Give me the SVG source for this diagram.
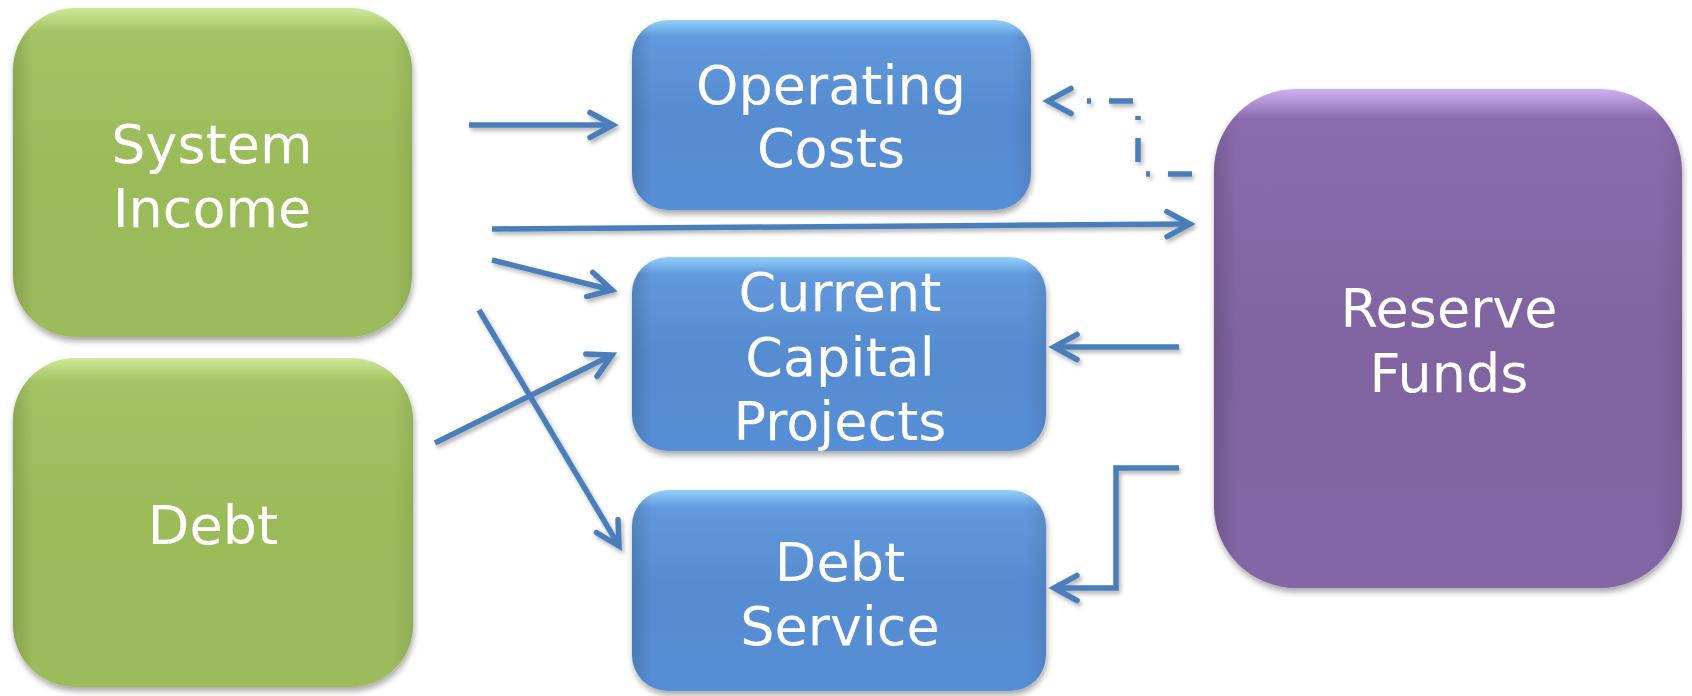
<svg xmlns="http://www.w3.org/2000/svg" width="1692" height="696" viewBox="0 0 1692 696">
  <defs>
    <style>
      .lbl { font-family: "DejaVu Sans", Verdana, sans-serif; font-size: 54px; fill: #ffffff; text-anchor: middle; }
      .conn { fill: none; stroke: #4A7EBB; stroke-width: 5.5; }
      .dash { stroke-dasharray: 24 18 4 20; }
      .edge { fill: url(#edgeShade); }
    </style>
    <linearGradient id="gGreen" x1="0" y1="0" x2="0" y2="1">
      <stop offset="0" stop-color="#cfe99a"/>
      <stop offset="0.07" stop-color="#a4c463"/>
      <stop offset="0.5" stop-color="#9bbb59"/>
      <stop offset="1" stop-color="#9bbb5c"/>
    </linearGradient>
    <linearGradient id="gBlue" x1="0" y1="0" x2="0" y2="1">
      <stop offset="0" stop-color="#93d0fb"/>
      <stop offset="0.09" stop-color="#6199dc"/>
      <stop offset="0.5" stop-color="#568bd0"/>
      <stop offset="1" stop-color="#578fd6"/>
    </linearGradient>
    <linearGradient id="gPurple" x1="0" y1="0" x2="0" y2="1">
      <stop offset="0" stop-color="#cfb0f2"/>
      <stop offset="0.06" stop-color="#8a6cae"/>
      <stop offset="0.5" stop-color="#8064a0"/>
      <stop offset="1" stop-color="#8266a6"/>
    </linearGradient>
    <linearGradient id="edgeShade" x1="0" y1="0" x2="1" y2="0">
      <stop offset="0" stop-color="#000" stop-opacity="0.14"/>
      <stop offset="0.05" stop-color="#000" stop-opacity="0"/>
      <stop offset="0.95" stop-color="#000" stop-opacity="0"/>
      <stop offset="1" stop-color="#000" stop-opacity="0.08"/>
    </linearGradient>
    <filter id="boxShadow" x="-10%" y="-10%" width="120%" height="125%">
      <feDropShadow dx="1" dy="4" stdDeviation="3" flood-color="#000" flood-opacity="0.35"/>
    </filter>
    <filter id="lineShadow" x="-10%" y="-10%" width="120%" height="130%">
      <feDropShadow dx="2" dy="3" stdDeviation="2" flood-color="#000" flood-opacity="0.3"/>
    </filter>
    <marker id="chev" markerUnits="userSpaceOnUse" markerWidth="40" markerHeight="40" viewBox="-30 -20 40 40" refX="0" refY="0" orient="auto" overflow="visible">
      <path d="M -23 -12.5 L 0 0 L -23 12.5" fill="none" stroke="#4A7EBB" stroke-width="5.5" stroke-linecap="round" stroke-linejoin="miter"/>
    </marker>
    <!-- same chevron, tip placed 20px beyond the end of the (dashed) line -->
    <marker id="chevGap" markerUnits="userSpaceOnUse" markerWidth="60" markerHeight="40" viewBox="-30 -20 60 40" refX="-20" refY="0" orient="auto" overflow="visible">
      <path d="M -23 -12.5 L 0 0 L -23 12.5" fill="none" stroke="#4A7EBB" stroke-width="5.5" stroke-linecap="round" stroke-linejoin="miter"/>
    </marker>
  </defs>

  <rect width="1692" height="696" fill="#ffffff"/>

  <!-- Sources -->
  <g id="system-income" filter="url(#boxShadow)">
    <rect x="13" y="8" width="399" height="329" rx="62" fill="url(#gGreen)"/>
    <rect x="13" y="8" width="399" height="329" rx="62" class="edge"/>
    <text class="lbl" x="212" y="163">System</text>
    <text class="lbl" x="212" y="227">Income</text>
  </g>

  <g id="debt" filter="url(#boxShadow)">
    <rect x="13" y="358" width="400" height="329" rx="62" fill="url(#gGreen)"/>
    <rect x="13" y="358" width="400" height="329" rx="62" class="edge"/>
    <text class="lbl" x="213" y="544">Debt</text>
  </g>

  <!-- Uses -->
  <g id="operating-costs" filter="url(#boxShadow)">
    <rect x="632" y="20" width="399" height="190" rx="36" fill="url(#gBlue)"/>
    <rect x="632" y="20" width="399" height="190" rx="36" class="edge"/>
    <text class="lbl" x="831" y="104">Operating</text>
    <text class="lbl" x="831" y="167">Costs</text>
  </g>

  <g id="current-capital-projects" filter="url(#boxShadow)">
    <rect x="632" y="257" width="414" height="194" rx="36" fill="url(#gBlue)"/>
    <rect x="632" y="257" width="414" height="194" rx="36" class="edge"/>
    <text class="lbl" x="840" y="311">Current</text>
    <text class="lbl" x="840" y="376">Capital</text>
    <text class="lbl" x="840" y="440">Projects</text>
  </g>

  <g id="debt-service" filter="url(#boxShadow)">
    <rect x="632" y="490" width="414" height="201" rx="36" fill="url(#gBlue)"/>
    <rect x="632" y="490" width="414" height="201" rx="36" class="edge"/>
    <text class="lbl" x="840" y="581">Debt</text>
    <text class="lbl" x="840" y="645">Service</text>
  </g>

  <g id="reserve-funds" filter="url(#boxShadow)">
    <rect x="1214" y="89" width="468" height="499" rx="82" fill="url(#gPurple)"/>
    <rect x="1214" y="89" width="468" height="499" rx="82" class="edge"/>
    <text class="lbl" x="1449" y="327">Reserve</text>
    <text class="lbl" x="1449" y="392">Funds</text>
  </g>

  <!-- Flows between sources and uses -->
  <g id="connectors" filter="url(#lineShadow)">
    <line class="conn" x1="469" y1="125" x2="613" y2="125" marker-end="url(#chev)"/>
    <line class="conn" x1="492" y1="229" x2="1190" y2="224" marker-end="url(#chev)"/>
    <line class="conn" x1="492" y1="260" x2="612" y2="290" marker-end="url(#chev)"/>
    <line class="conn" x1="479" y1="310" x2="619" y2="546" marker-end="url(#chev)"/>
    <line class="conn" x1="435" y1="443" x2="612" y2="355" marker-end="url(#chev)"/>
    <line class="conn" x1="1179" y1="347" x2="1054" y2="347" marker-end="url(#chev)"/>
    <polyline class="conn" points="1179,468 1116,468 1116,588 1054,588" marker-end="url(#chev)"/>
    <polyline class="conn dash" points="1192,174 1138,174 1138,101 1068,101" marker-end="url(#chevGap)"/>
  </g>
</svg>
